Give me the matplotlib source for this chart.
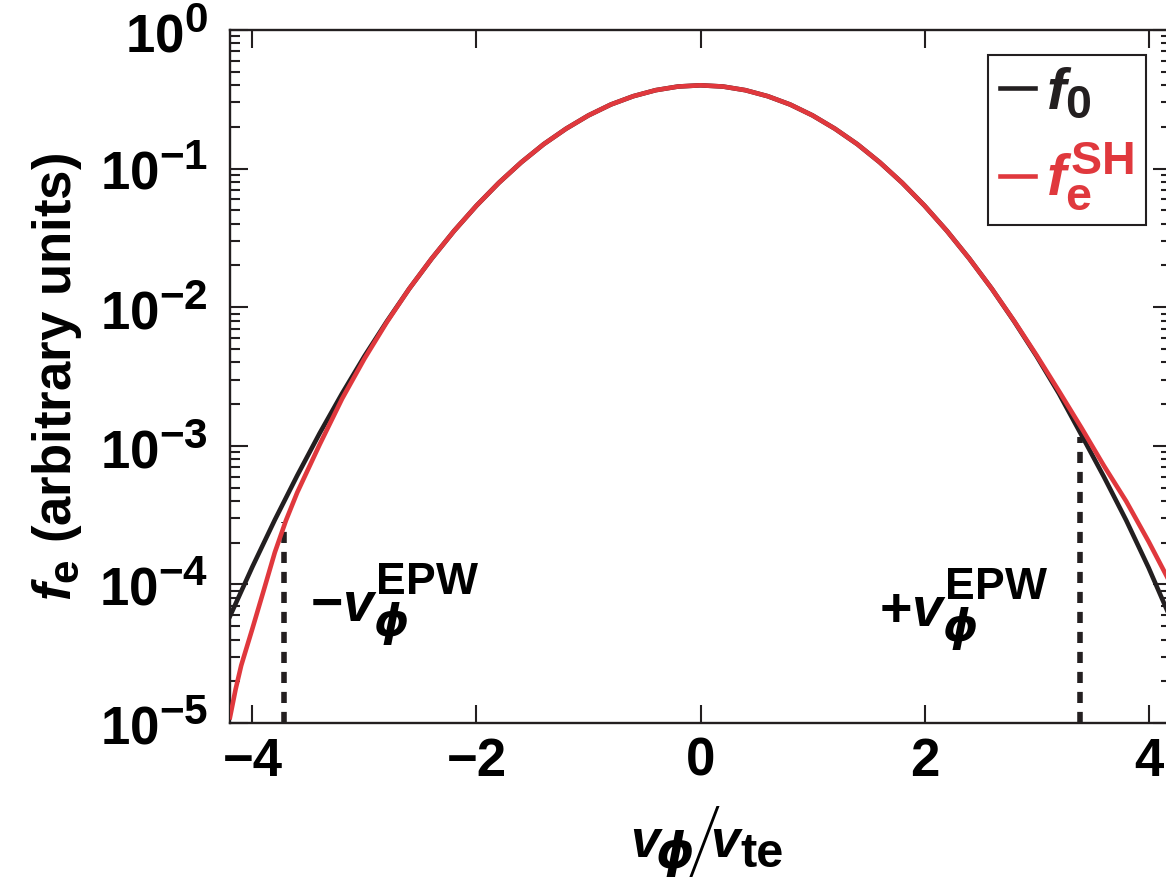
import matplotlib
matplotlib.use('Agg')
import matplotlib.pyplot as plt
import matplotlib._mathtext as _mathtext
from matplotlib.ticker import FixedLocator, LogLocator, NullFormatter

# sub/superscripts a bit larger than the mathtext default (0.7)
_mathtext.SHRINK_FACTOR = 0.8

W_PX, H_PX, DPI = 1166, 877, 100

BLACK = '#231F20'
RED = '#E0383D'

# Maxwellian f0 vs normalised velocity
v_f0 = [-4.2, -4.0, -3.8, -3.6, -3.4, -3.2, -3.0, -2.8, -2.6, -2.4, -2.2,
        -2.0, -1.8, -1.6, -1.4, -1.2, -1.0, -0.8, -0.6, -0.4, -0.2, 0.0,
        0.2, 0.4, 0.6, 0.8, 1.0, 1.2, 1.4, 1.6, 1.8, 2.0, 2.2, 2.4, 2.6,
        2.8, 3.0, 3.2, 3.4, 3.6, 3.8, 4.0, 4.2]
f0 = [5.9e-5, 1.34e-4, 2.92e-4, 6.1e-4, 1.23e-3, 2.38e-3, 4.43e-3, 7.9e-3,
      1.36e-2, 2.24e-2, 3.55e-2, 5.4e-2, 7.9e-2, 0.111, 0.150, 0.194, 0.242,
      0.290, 0.333, 0.368, 0.391, 0.399, 0.391, 0.368, 0.333, 0.290, 0.242,
      0.194, 0.150, 0.111, 7.9e-2, 5.4e-2, 3.55e-2, 2.24e-2, 1.36e-2,
      7.9e-3, 4.43e-3, 2.38e-3, 1.2e-3, 6.0e-4, 2.9e-4, 1.32e-4, 5.6e-5]

# Spitzer-Harm corrected distribution
v_sh = [-4.2, -4.15, -4.1, -4.0, -3.9, -3.8, -3.7, -3.6, -3.4, -3.2, -3.0,
        -2.8, -2.6, -2.4, -2.2, -2.0, -1.8, -1.6, -1.4, -1.2, -1.0, -0.8,
        -0.6, -0.4, -0.2, 0.0, 0.2, 0.4, 0.6, 0.8, 1.0, 1.2, 1.4, 1.6, 1.8,
        2.0, 2.2, 2.4, 2.6, 2.8, 3.0, 3.2, 3.4, 3.6, 3.8, 4.0, 4.2]
f_sh = [1.1e-5, 1.75e-5, 2.6e-5, 4.8e-5, 9.0e-5, 1.7e-4, 2.9e-4, 4.6e-4,
        1.02e-3, 2.18e-3, 4.25e-3, 7.8e-3, 1.36e-2, 2.24e-2, 3.55e-2, 5.4e-2,
        7.9e-2, 0.111, 0.150, 0.194, 0.242, 0.290, 0.333, 0.368, 0.391,
        0.399, 0.391, 0.368, 0.333, 0.290, 0.242, 0.194, 0.150, 0.111,
        7.9e-2, 5.4e-2, 3.55e-2, 2.24e-2, 1.36e-2, 7.95e-3, 4.5e-3, 2.48e-3,
        1.35e-3, 7.2e-4, 3.98e-4, 2.04e-4, 1.0e-4]

# EPW phase velocities and where their markers meet the curves
v_epw = [-3.72, 3.39]
f_epw = [2.8e-4, 1.15e-3]
epw_labels = [r'$-v_{\mathsf{ϕ}}^{\mathrm{EPW}}$',
              r'$+v_{\mathsf{ϕ}}^{\mathrm{EPW}}$']

x_ticks = [-4, -2, 0, 2, 4]

plt.rcParams.update({
    'font.family': ['Liberation Sans', 'DejaVu Sans'],
    'font.weight': 'bold',
    'mathtext.fontset': 'custom',
    'mathtext.rm': 'Liberation Sans:bold',
    'mathtext.it': 'Liberation Sans:italic:bold',
    'mathtext.bf': 'Liberation Sans:bold',
    # straight-stroke phi lives in DejaVu
    'mathtext.sf': 'DejaVu Sans:italic:bold',
    'axes.linewidth': 1.7,
    'axes.edgecolor': BLACK,
    'xtick.direction': 'in',
    'ytick.direction': 'in',
    'xtick.top': True,
    'ytick.right': True,
    'xtick.color': BLACK,
    'ytick.color': BLACK,
    'xtick.labelcolor': 'black',
    'ytick.labelcolor': 'black',
})


def fig_xy(x_px, y_px):
    return x_px / W_PX, 1 - y_px / H_PX


fig = plt.figure(figsize=(W_PX / DPI, H_PX / DPI), dpi=DPI)
ax = fig.add_axes([230 / W_PX, 1 - 723 / H_PX, 941 / W_PX, 693 / H_PX])

ax.plot(v_f0, f0, color=BLACK, lw=3.3, label=r'$f_0$', zorder=3)
ax.plot(v_sh, f_sh, color=RED, lw=3.3, label=r'$f_{\mathrm{e}}^{\mathrm{SH}}$', zorder=4)

for v, f in zip(v_epw, f_epw):
    ax.plot([v, v], [1e-5, f], color=BLACK, lw=4.0, dashes=(2.0, 1.6), zorder=2)

ax.text(v_epw[0] + 0.23, 5.36e-5, epw_labels[0], fontsize=40,
        ha='left', va='baseline')
ax.text(v_epw[1] - 0.29, 4.93e-5, epw_labels[1], fontsize=40,
        ha='right', va='baseline')

ax.set_yscale('log')
ax.set_xlim(-4.2, 4.2)
ax.set_ylim(1e-5, 1e0)

ax.xaxis.set_major_locator(FixedLocator(x_ticks))
ax.yaxis.set_major_locator(LogLocator(base=10, numticks=10))
ax.yaxis.set_minor_locator(LogLocator(base=10, subs=range(2, 10), numticks=10))
ax.yaxis.set_minor_formatter(NullFormatter())

ax.tick_params(which='major', length=13, width=1.5)
ax.tick_params(which='minor', length=7.5, width=1.5)
ax.tick_params(axis='x', labelsize=38, pad=10)
ax.tick_params(axis='y', labelsize=38, pad=16)

ax.set_ylabel(r'$f_{\mathbf{e}}\ \mathrm{(arbitrary\ units)}$', fontsize=38)
ax.yaxis.set_label_coords(-0.155, 0.5)

# x label assembled piece by piece so the slash can be tall
fig.text(*fig_xy(630, 857), 'v', fontsize=38, style='italic', va='baseline')
fig.text(*fig_xy(655, 868), 'ϕ', fontsize=35, family='DejaVu Sans',
         style='italic', va='baseline')
fig.text(*fig_xy(683, 882), '/', fontsize=76, family='Roboto', weight='light',
         va='baseline')
fig.text(*fig_xy(710, 857), 'v', fontsize=38, style='italic', va='baseline')
fig.text(*fig_xy(740, 867), 'te', fontsize=35, va='baseline')

leg = ax.legend(loc='upper right', bbox_to_anchor=(0.9734, 0.9639),
                borderaxespad=0, fontsize=42, handlelength=0.6,
                handletextpad=0.2, borderpad=0.2, labelspacing=0.35,
                fancybox=False, edgecolor=BLACK, framealpha=1,
                labelcolor='linecolor')
leg.get_frame().set_linewidth(1.5)

fig.savefig('out.png', dpi=DPI)
